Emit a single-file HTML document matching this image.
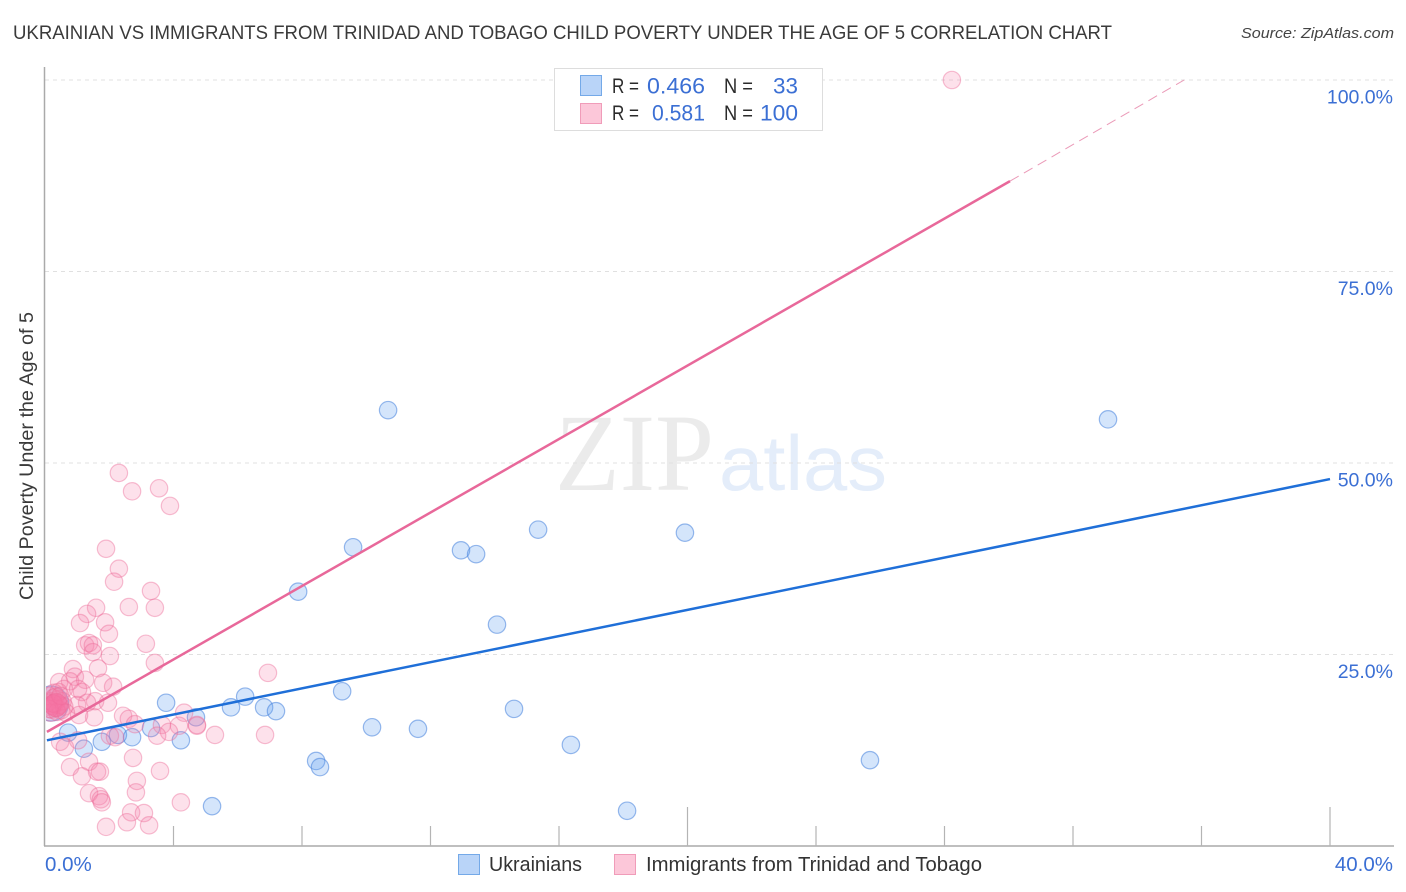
<!DOCTYPE html>
<html lang="en">
<head>
<meta charset="utf-8">
<title>Ukrainian vs Immigrants from Trinidad and Tobago Child Poverty Chart</title>
<style>
html,body{margin:0;padding:0;background:#fff;}
svg{display:block;font-family:"Liberation Sans",sans-serif;}
</style>
</head>
<body>
<svg id="chart" width="1406" height="892" viewBox="0 0 1406 892" xmlns="http://www.w3.org/2000/svg">
  <defs>
    <clipPath id="plot-clip"><rect x="46" y="60" width="1348" height="786"/></clipPath>
  </defs>
  <rect x="0" y="0" width="1406" height="892" fill="#ffffff"/>
  <text x="13" y="39" font-size="19" fill="#3a3a3a" textLength="1099" lengthAdjust="spacingAndGlyphs">UKRAINIAN VS IMMIGRANTS FROM TRINIDAD AND TOBAGO CHILD POVERTY UNDER THE AGE OF 5 CORRELATION CHART</text>
  <text x="1241" y="38" font-size="15" font-style="italic" fill="#444444" textLength="153" lengthAdjust="spacingAndGlyphs">Source: ZipAtlas.com</text>
  <g>
    <text x="555" y="490" font-family="'Liberation Serif',serif" font-size="110" fill="#ebebeb" textLength="159" lengthAdjust="spacingAndGlyphs">ZIP</text>
    <text x="719" y="490" font-size="78" fill="#e4edfa" textLength="168" lengthAdjust="spacingAndGlyphs">atlas</text>
  </g>
  <g id="grid"></g>
  <g id="axes"></g>
  <g id="marks" clip-path="url(#plot-clip)"></g>
  <g id="labels"></g>
  <text transform="translate(33,600) rotate(-90)" x="0" y="0" font-size="19" fill="#3a3a3a" textLength="288" lengthAdjust="spacingAndGlyphs">Child Poverty Under the Age of 5</text>

  <g>
    <rect x="554.5" y="68.5" width="268" height="62" fill="#ffffff" stroke="#dddddd" stroke-width="1"/>
    <rect x="580.5" y="75.5" width="21" height="20" fill="#b9d4f8" stroke="#74a9e8" stroke-width="1"/>
    <rect x="580.5" y="103.5" width="21" height="20" fill="#fcc7d9" stroke="#f09cb9" stroke-width="1"/>
    <g font-size="21" fill="#2b2b2b">
      <text x="612" y="93" textLength="27" lengthAdjust="spacingAndGlyphs">R =</text>
      <text x="724" y="93" textLength="29" lengthAdjust="spacingAndGlyphs">N =</text>
      <text x="612" y="120" textLength="27" lengthAdjust="spacingAndGlyphs">R =</text>
      <text x="724" y="120" textLength="29" lengthAdjust="spacingAndGlyphs">N =</text>
    </g>
    <g font-size="22" fill="#3b6fd4">
      <text x="647" y="93.5" textLength="58" lengthAdjust="spacingAndGlyphs">0.466</text>
      <text x="773" y="93.5" textLength="25" lengthAdjust="spacingAndGlyphs">33</text>
      <text x="652" y="120.5" textLength="53" lengthAdjust="spacingAndGlyphs">0.581</text>
      <text x="760" y="120.5" textLength="38" lengthAdjust="spacingAndGlyphs">100</text>
    </g>
  </g>

  <g>
    <rect x="458.5" y="854.5" width="21" height="20" fill="#b9d4f8" stroke="#74a9e8" stroke-width="1"/>
    <text x="489" y="871" font-size="20" fill="#333333" textLength="93" lengthAdjust="spacingAndGlyphs">Ukrainians</text>
    <rect x="614.5" y="854.5" width="21" height="20" fill="#fcc7d9" stroke="#f09cb9" stroke-width="1"/>
    <text x="646" y="871" font-size="20" fill="#333333" textLength="336" lengthAdjust="spacingAndGlyphs">Immigrants from Trinidad and Tobago</text>
  </g>
</svg>
<script>
const blueX = [10.68,33.09,9.59,15.35,12.95,13.42,19.92,7.88,14.07,9.25,6.23,3.77,5.79,6.82,7.19,14.60,4.70,3.30,10.18,11.61,16.37,2.27,2.71,4.23,1.77,1.21,0.72,8.44,8.56,25.68,5.20,18.12];
const blueY = [56.9,55.7,39.0,41.3,38.6,38.1,40.9,33.2,28.9,20.2,19.5,18.7,18.1,18.1,17.6,17.9,16.8,15.4,15.5,15.3,13.2,14.5,14.2,13.8,13.6,12.7,14.8,11.1,10.3,11.2,5.2,4.6];
const blueClusterX = [0.19];
const blueClusterY = [18.6];
const pinkClusterX = [0.34];
const pinkClusterY = [18.4];
const pinkX = [28.23,2.30,2.71,3.55,3.89,1.90,2.30,2.15,3.30,2.61,3.42,1.59,1.31,1.09,1.87,1.99,3.14,1.25,1.37,1.49,1.49,2.02,3.42,1.65,0.87,6.94,0.93,0.44,0.78,1.25,1.81,2.12,1.15,0.59,1.03,1.56,1.96,1.31,1.00,1.53,1.06,2.43,2.61,2.80,3.64,4.33,4.17,4.73,4.73,3.86,3.49,5.29,6.85,2.02,2.18,1.03,0.47,0.62,0.78,1.37,1.15,1.62,1.71,2.74,3.58,2.86,2.83,4.23,1.37,1.68,1.74,1.77,2.68,3.08,2.55,3.24,1.90,0.10,0.15,0.20,0.25,0.30,0.12,0.35,0.40,0.45,0.18,0.28,0.50,0.08,0.22,0.33,0.38,0.55,0.60,0.42,0.14,0.26,0.48,0.65];
const pinkY = [100.0,48.7,46.3,46.7,44.4,38.8,36.2,34.5,33.3,31.2,31.1,31.1,30.3,29.1,29.2,27.7,26.4,26.2,26.5,26.2,25.3,24.8,23.9,23.2,23.1,22.6,22.1,21.4,21.5,21.7,21.3,20.8,20.1,20.5,20.5,18.9,18.7,18.7,18.4,16.8,17.1,17.0,16.6,15.9,15.8,17.4,15.7,15.7,15.8,14.9,14.4,14.5,14.5,14.4,14.2,13.8,13.6,12.9,10.3,11.0,9.1,9.7,9.7,11.5,9.8,8.5,7.0,5.7,6.9,6.5,6.1,5.7,4.4,4.3,3.1,2.7,2.5,18.2,18.9,17.8,19.3,18.5,19.6,18.0,19.1,18.4,17.4,20.0,17.7,18.7,18.3,19.5,17.5,18.9,18.2,20.1,17.9,18.6,19.6,17.4];
const blueTrendX = [0.06,40];
const blueTrendY = [13.8,47.9];
const pinkTrendX = [0.06,30.04];
const pinkTrendY = [14.9,86.8];
const pinkExtendX = [30.04,35.46];
const pinkExtendY = [86.8,100];
const yTicks = [25,50,75,100];
const yTickLabels = ["25.0%","50.0%","75.0%","100.0%"];
const xTicks = [4,8,12,16,20,24,28,32,36,40];
const xMajorTicks = [20,40];
const xEndTicks = [0,40];
const xEndLabels = ["0.0%","40.0%"];

const NS = 'http://www.w3.org/2000/svg';
function sx(v){ return 45 + v * 32.125; }
function sy(v){ return 846 - v * 7.66; }
function make(parent, tag, attrs){
  const el = document.createElementNS(NS, tag);
  for (const k in attrs) el.setAttribute(k, attrs[k]);
  parent.appendChild(el);
  return el;
}
const grid = document.getElementById('grid');
const axes = document.getElementById('axes');
const marks = document.getElementById('marks');
const labels = document.getElementById('labels');

yTicks.forEach(function(t, i){
  const line = make(grid, 'line', {x1:45, x2:1394, y1:sy(t), y2:sy(t), stroke:'#e0e0e0', 'stroke-width':1, 'stroke-dasharray':'4 4'});
  
  
  const label = make(labels, 'text', {x:1393, y:sy(t) + 23.5, 'text-anchor':'end', 'font-size':19.5, fill:'#3b6fd4'});
  
  
  label.textContent = yTickLabels[i];
});

const yAxis = make(axes, 'line', {x1:44.5, x2:44.5, y1:67, y2:846, stroke:'#aaaaaa', 'stroke-width':1.5});


const xAxis = make(axes, 'line', {x1:44, x2:1394, y1:846, y2:846, stroke:'#aaaaaa', 'stroke-width':1.5});


xTicks.forEach(function(t){
  const isMajor = xMajorTicks.indexOf(t) >= 0;
  const tick = make(axes, 'line', {x1:sx(t), x2:sx(t), y1:isMajor ? 807 : 826, y2:846, stroke:'#b4b4b4', 'stroke-width':1.2});
  
  
});
xEndTicks.forEach(function(t, i){
  const label = make(labels, 'text', {x:i === 0 ? sx(t) : 1393, y:871, 'text-anchor':i === 0 ? 'start' : 'end', 'font-size':20.5, fill:'#3b6fd4'});
  
  
  label.textContent = xEndLabels[i];
});

blueClusterX.forEach(function(x, i){
  const c = make(marks, 'circle', {cx:sx(x), cy:sy(blueClusterY[i]), r:17.5, fill:'rgba(100,160,240,0.28)', stroke:'rgba(70,130,220,0.55)', 'stroke-width':1.2});
  
  
});
blueX.forEach(function(x, i){
  const c = make(marks, 'circle', {cx:sx(x), cy:sy(blueY[i]), r:8.7, fill:'rgba(100,160,240,0.28)', stroke:'rgba(70,130,220,0.55)', 'stroke-width':1.2});
  
  
});
pinkX.forEach(function(x, i){
  const c = make(marks, 'circle', {cx:sx(x), cy:sy(pinkY[i]), r:8.7, fill:'rgba(245,130,170,0.24)', stroke:'rgba(235,105,150,0.42)', 'stroke-width':1.2});
  
  
});
pinkClusterX.forEach(function(x, i){
  const c = make(marks, 'circle', {cx:sx(x), cy:sy(pinkClusterY[i]), r:11.5, fill:'rgba(245,110,160,0.55)', stroke:'rgba(235,105,150,0.4)', 'stroke-width':1});
  
  
});

const pinkTrend = make(marks, 'line', {x1:sx(pinkTrendX[0]), y1:sy(pinkTrendY[0]), x2:sx(pinkTrendX[1]), y2:sy(pinkTrendY[1]), stroke:'#e8689a', 'stroke-width':2.5});


const pinkExtend = make(marks, 'line', {x1:sx(pinkExtendX[0]), y1:sy(pinkExtendY[0]), x2:sx(pinkExtendX[1]), y2:sy(pinkExtendY[1]), stroke:'#eb9ab8', 'stroke-width':1, 'stroke-dasharray':'10 6'});


const blueTrend = make(marks, 'line', {x1:sx(blueTrendX[0]), y1:sy(blueTrendY[0]), x2:sx(blueTrendX[1]), y2:sy(blueTrendY[1]), stroke:'#1f6fd8', 'stroke-width':2.5});


</script>
</body>
</html>
